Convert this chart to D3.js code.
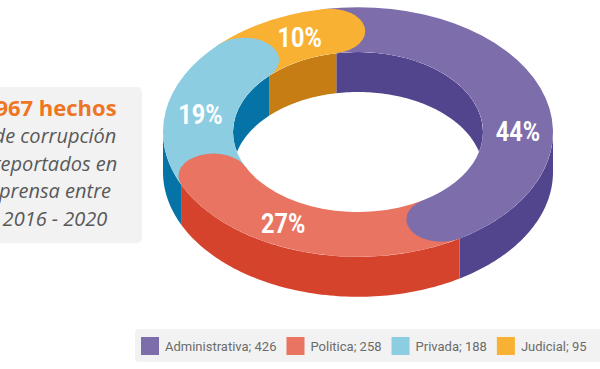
<!DOCTYPE html>
<html>
<head>
<meta charset="utf-8">
<script src="https://cdn.jsdelivr.net/npm/d3@7"></script>
<style>
  html, body { margin: 0; padding: 0; background: #ffffff; }
  svg { display: block; }
</style>
</head>
<body>
<svg id="chart" width="600" height="369"></svg>
<script>
// ---- data ----
const categories = ["Administrativa", "Politica", "Privada", "Judicial"];
const values = [426, 258, 188, 95];
const percentLabels = ["44%", "27%", "19%", "10%"];
const infoLines = ["de corrupción", "reportados en", "prensa entre", "2016 - 2020"];
const infoUnit = "hechos";

// ---- styles ----
const topColors = ["#7d6dab", "#e87461", "#8ccde2", "#f8b133"];
const wallColors = ["#52458e", "#d6432c", "#0673a6", "#c67d14"];
const labelNudgeDeg = [14, 5, -6, 0];

const svg = d3.select("#chart");

// ---- geometry ----
const cx = 358, cy = 132, k = 0.64, depth = 40;
const R = 195, r = 125, rm = (R + r) / 2, capR = (R - r) / 2;
const start = -10 * Math.PI / 180;

const pie = d3.pie().sort(null).value(d => d).startAngle(start).endAngle(start + 2 * Math.PI);
const arcs = pie(values);

function pt(rad, a, dy) {
  return [cx + rad * Math.sin(a), cy - k * rad * Math.cos(a) + (dy || 0)];
}
function wallPath(rad, a0, a1) {
  const n = 80, top = [], bot = [];
  for (let i = 0; i <= n; i++) {
    const a = a0 + (a1 - a0) * i / n;
    top.push(pt(rad, a, 0));
    bot.push(pt(rad, a, depth));
  }
  return d3.line()(top.concat(bot.reverse())) + "Z";
}
function intersect(a0, a1, b0, b1) {
  const s = Math.max(a0, b0), e = Math.min(a1, b1);
  return s < e ? [s, e] : null;
}

// outer walls (front half)
const gOuter = svg.append("g");
arcs.forEach((d, i) => {
  const seg = intersect(d.startAngle, d.endAngle, Math.PI / 2, 3 * Math.PI / 2);
  if (seg) gOuter.append("path").attr("d", wallPath(R, seg[0], seg[1])).attr("fill", wallColors[i]);
});

// inner walls (back half), clipped to the hole
const defs = svg.append("defs");
defs.append("clipPath").attr("id", "hole")
  .append("ellipse").attr("cx", cx).attr("cy", cy).attr("rx", r).attr("ry", r * k);
const gInner = svg.append("g").attr("clip-path", "url(#hole)");
arcs.forEach((d, i) => {
  [[-Math.PI / 2, Math.PI / 2], [3 * Math.PI / 2, 5 * Math.PI / 2]].forEach(rg => {
    const seg = intersect(d.startAngle, d.endAngle, rg[0], rg[1]);
    if (seg) gInner.append("path").attr("d", wallPath(r, seg[0], seg[1])).attr("fill", wallColors[i]);
  });
});

// top face in flat space, projected with scale
const gTop = svg.append("g").attr("transform", `translate(${cx},${cy}) scale(1,${k})`);
const arcGen = d3.arc().innerRadius(r).outerRadius(R);
gTop.selectAll("path.body").data(arcs).join("path")
  .attr("class", "body").attr("d", arcGen).attr("fill", (d, i) => topColors[i]);
gTop.selectAll("circle.cap").data(arcs).join("circle")
  .attr("class", "cap")
  .attr("cx", d => rm * Math.sin(d.endAngle))
  .attr("cy", d => -rm * Math.cos(d.endAngle))
  .attr("r", capR)
  .attr("fill", (d, i) => topColors[i]);

// percent labels (condensed look)
const capAngle = capR / rm;
svg.append("g").selectAll("text").data(arcs).join("text")
  .attr("transform", (d, i) => {
    const a = (d.startAngle + d.endAngle) / 2 + capAngle / 2 + labelNudgeDeg[i] * Math.PI / 180;
    const p = pt(rm, a, 0);
    return `translate(${p[0]},${p[1]}) scale(0.84,1)`;
  })
  .attr("dy", "0.36em")
  .attr("text-anchor", "middle")
  .attr("fill", "#ffffff")
  .style("font-family", "Roboto, sans-serif")
  .style("font-weight", "bold")
  .style("font-size", "28px")
  .text((d, i) => percentLabels[i]);

// info box
const info = svg.append("g");
info.append("rect").attr("x", -30).attr("y", 87).attr("width", 172).attr("height", 156)
  .attr("rx", 5).attr("fill", "#f2f2f2");
info.append("text").attr("x", 56).attr("y", 116).attr("text-anchor", "middle")
  .attr("fill", "#ee7622")
  .style("font-family", "'Open Sans', sans-serif").style("font-weight", "bold").style("font-size", "22px")
  .text(d3.sum(values) + " " + infoUnit);
info.selectAll("text.line").data(infoLines).join("text")
  .attr("class", "line")
  .attr("x", 55).attr("y", (d, i) => 143 + i * 27.7)
  .attr("text-anchor", "middle")
  .attr("fill", "#595959")
  .style("font-family", "'Open Sans', sans-serif").style("font-style", "italic").style("font-size", "20px")
  .text(d => d);

// legend
const lg = svg.append("g");
lg.append("rect").attr("x", 135).attr("y", 329).attr("width", 500).attr("height", 33)
  .attr("rx", 4).attr("fill", "#f2f2f2");
let lx = 141;
categories.forEach((c, i) => {
  lg.append("rect").attr("x", lx).attr("y", 337).attr("width", 18).attr("height", 18)
    .attr("fill", topColors[i]);
  const t = lg.append("text").attr("x", lx + 24).attr("y", 350.5)
    .attr("fill", "#6b6b6b")
    .style("font-family", "Roboto, sans-serif").style("font-size", "13px")
    .text(c + "; " + values[i]);
  lx += 24 + t.node().getComputedTextLength() + 10;
});
</script>
</body>
</html>
